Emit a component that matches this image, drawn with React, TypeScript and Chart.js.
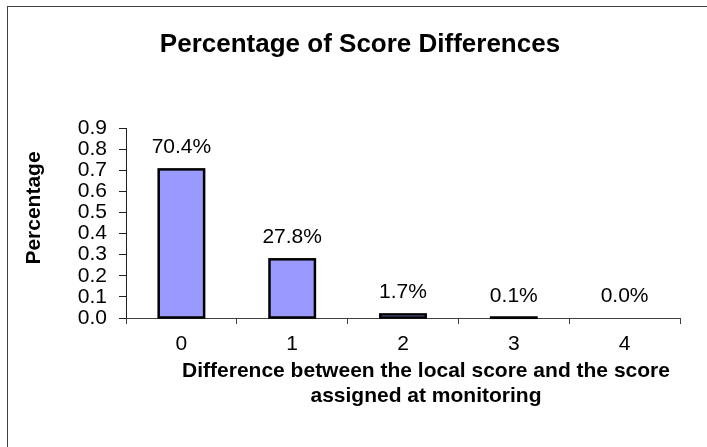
import React, { useEffect, useRef } from "react";
import { Chart, registerables } from "chart.js";

Chart.register(...registerables);

const categories = ["0", "1", "2", "3", "4"];
const shares = [0.704, 0.278, 0.017, 0.001, 0.0];
const yTickValues = [0, 0.1, 0.2, 0.3, 0.4, 0.5, 0.6, 0.7, 0.8, 0.9];
const chartTitle = "Percentage of Score Differences";
const yAxisTitle = "Percentage";
const xAxisTitleLines = [
  "Difference between the local score and the score",
  "assigned at monitoring",
];

const FONT = '"Liberation Sans", Arial, sans-serif';

export default function App() {
  const ref = useRef<HTMLCanvasElement | null>(null);

  useEffect(() => {
    const canvas = ref.current;
    if (!canvas) return;

    const overlay = {
      id: "overlay",
      afterDatasetsDraw(chart: any) {
        const ctx = chart.ctx;
        const meta = chart.getDatasetMeta(0);
        ctx.save();
        // bar outlines (Excel style, skipped for zero values)
        meta.data.forEach((el: any, i: number) => {
          if (shares[i] <= 0) return;
          const left = el.x - el.width / 2;
          const top = Math.min(el.y, el.base);
          const h = Math.abs(el.base - el.y);
          ctx.lineWidth = 2.5;
          ctx.strokeStyle = "#000";
          ctx.strokeRect(left, top, el.width, h);
        });
        // data labels
        ctx.fillStyle = "#000";
        ctx.font = `21px ${FONT}`;
        ctx.textAlign = "center";
        ctx.textBaseline = "alphabetic";
        meta.data.forEach((el: any, i: number) => {
          const label = (shares[i] * 100).toFixed(1) + "%";
          ctx.fillText(label, el.x, Math.min(el.y, el.base) - 16);
        });
        ctx.restore();
      },
      afterDraw(chart: any) {
        const ctx = chart.ctx;
        const area = chart.chartArea;
        ctx.save();
        // outer frame
        ctx.strokeStyle = "#404040";
        ctx.lineWidth = 1;
        ctx.strokeRect(7.5, 6.5, 720, 460);
        ctx.fillStyle = "#000";
        // title
        ctx.font = `bold 26px ${FONT}`;
        ctx.textAlign = "center";
        ctx.textBaseline = "alphabetic";
        ctx.fillText(chartTitle, 360, 52);
        // x axis title (two lines)
        ctx.font = `bold 21px ${FONT}`;
        const xc = (area.left + area.right) / 2 + 23;
        ctx.fillText(xAxisTitleLines[0], xc, area.bottom + 59);
        ctx.fillText(xAxisTitleLines[1], xc, area.bottom + 84);
        // y axis title
        ctx.translate(39.5, (area.top + area.bottom) / 2 - 15);
        ctx.rotate(-Math.PI / 2);
        ctx.fillText(yAxisTitle, 0, 0);
        ctx.restore();
      },
    };

    const chart = new Chart(canvas, {
      type: "bar",
      data: {
        labels: categories,
        datasets: [
          {
            data: shares,
            backgroundColor: "#9999FF",
            borderWidth: 0,
            barPercentage: 0.41,
            categoryPercentage: 1,
          },
        ],
      },
      options: {
        responsive: false,
        animation: false,
        devicePixelRatio: 1,
        layout: { padding: { left: 0, top: 128, right: 27, bottom: 89 } },
        plugins: {
          legend: { display: false },
          title: { display: false },
          tooltip: { enabled: false },
        },
        scales: {
          x: {
            afterFit: (s: any) => {
              s.height = 40;
            },
            grid: {
              display: true,
              offset: true,
              drawOnChartArea: false,
              drawTicks: true,
              tickLength: 6,
              color: "#404040",
            },
            border: { display: true, color: "#404040", width: 1 },
            ticks: {
              color: "#000",
              padding: 8,
              autoSkip: false,
              maxRotation: 0,
              font: { family: FONT, size: 21 },
            },
          },
          y: {
            min: 0,
            max: 0.9,
            afterFit: (s: any) => {
              s.width = 126;
            },
            afterBuildTicks: (s: any) => {
              s.ticks = yTickValues.map((v) => ({ value: v }));
            },
            grid: {
              display: true,
              drawOnChartArea: false,
              drawTicks: true,
              tickLength: 7,
              color: "#202020",
            },
            border: { display: true, color: "#202020", width: 1 },
            ticks: {
              color: "#000",
              padding: 12,
              autoSkip: false,
              font: { family: FONT, size: 21 },
              callback: (v: any) => Number(v).toFixed(1),
            },
          },
        },
      },
      plugins: [overlay],
    });

    return () => chart.destroy();
  }, []);

  return (
    <canvas
      ref={ref}
      width={707}
      height={447}
      style={{ position: "absolute", left: 0, top: 0, display: "block", background: "#fff" }}
    />
  );
}
